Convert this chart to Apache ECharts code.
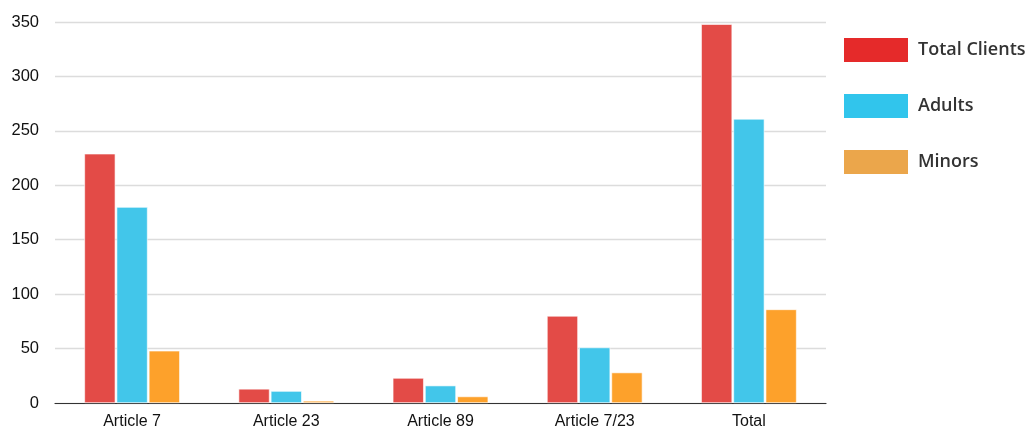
<!DOCTYPE html>
<html>
<head>
<meta charset="utf-8">
<script src="https://cdn.jsdelivr.net/npm/echarts@6/dist/echarts.min.js"></script>
<style>
html,body{margin:0;padding:0;background:#fff;}
#chart{width:1035px;height:430px;}
</style>
</head>
<body>
<div id="chart"></div>
<script>
var categories = ['Article 7', 'Article 23', 'Article 89', 'Article 7/23', 'Total'];
var totalClients = [229, 13, 23, 80, 348];
var adults = [180, 11, 16, 51, 261];
var minors = [48, 2, 6, 28, 86];
var yTicks = [0, 50, 100, 150, 200, 250, 300, 350];

var chart = echarts.init(document.getElementById('chart'));
function bar(name, data, color) {
  return {
    name: name, type: 'bar', data: data,
    barWidth: 31, barGap: '4%',
    itemStyle: { color: color, borderColor: '#ffffff', borderWidth: 0.6 },
    emphasis: { disabled: true }
  };
}
chart.setOption({
  animation: false,
  grid: { left: 55, right: 209, top: 22, bottom: 25, containLabel: false },
  legend: {
    orient: 'vertical', left: 842, top: 36, padding: 0,
    itemWidth: 66, itemHeight: 26, itemGap: 28,
    icon: 'rect',
    textStyle: { fontFamily: 'Open Sans', fontWeight: 600, fontSize: 18, color: '#333', padding: [0, 0, 0, 4] },
    data: [
      { name: 'Total Clients', itemStyle: { color: '#e52a2a' } },
      { name: 'Adults', itemStyle: { color: '#31c5ec' } },
      { name: 'Minors', itemStyle: { color: '#eba64b' } }
    ]
  },
  xAxis: {
    type: 'category', data: categories,
    axisLine: { lineStyle: { color: '#333', width: 1.2 } },
    axisTick: { show: false },
    axisLabel: { fontFamily: 'Liberation Sans', fontSize: 16, color: '#111', margin: 11 }
  },
  yAxis: {
    type: 'value', min: 0, max: 350, interval: 50,
    axisLine: { show: false }, axisTick: { show: false },
    axisLabel: {
      fontFamily: 'Liberation Sans', fontSize: 16.5, color: '#111', margin: 16,
      formatter: function (v) { return yTicks.indexOf(v) >= 0 ? String(v) : ''; }
    },
    splitLine: { lineStyle: { color: '#dcdcdc', width: 1.3 } }
  },
  series: [
    bar('Total Clients', totalClients, '#e34b47'),
    bar('Adults', adults, '#42c6ea'),
    bar('Minors', minors, '#fda12b')
  ]
});
</script>
</body>
</html>
